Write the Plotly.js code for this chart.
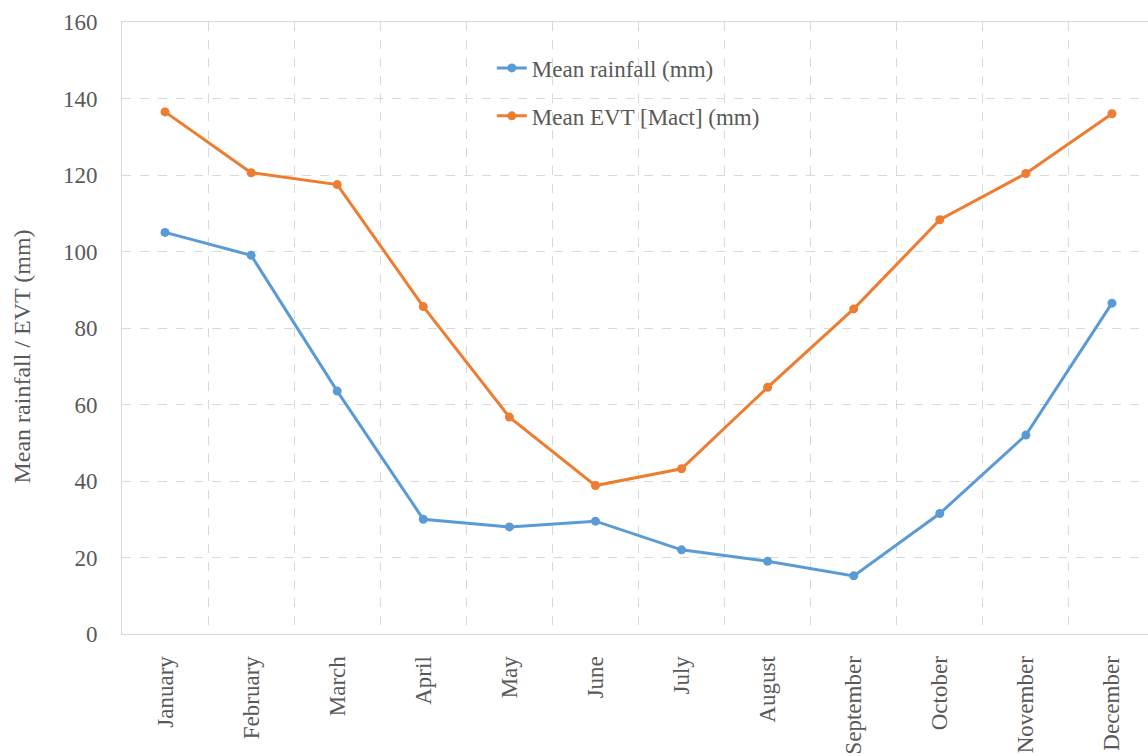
<!DOCTYPE html>
<html>
<head>
<meta charset="utf-8">
<script src="https://cdn.plot.ly/plotly-3.0.1.min.js"></script>
<style>
html,body{margin:0;padding:0;overflow:hidden;background:#fff;}
#chart{width:1155px;height:756px;}
</style>
</head>
<body>
<div id="chart"></div>
<script>
const months = ["January","February","March","April","May","June","July","August","September","October","November","December"];
const rainfall = [105, 99, 63.5, 30, 28, 29.5, 22, 19, 15.2, 31.5, 52, 86.5];
const evt = [136.5, 120.6, 117.5, 85.6, 56.7, 38.8, 43.2, 64.5, 85, 108.3, 120.4, 136];
const yTickVals = [0, 20, 40, 60, 80, 100, 120, 140, 160];
const seriesNames = ["Mean rainfall (mm)", "Mean EVT [Mact] (mm)"];
const yTitle = "Mean rainfall / EVT (mm)";

const FONT = "'Liberation Serif', 'Times New Roman', serif";
const GRAY = "#595959";
const GRID = "#d9d9d9";

const traces = [
  {x: months, y: rainfall, name: seriesNames[0], type: "scatter", mode: "lines+markers",
   line: {color: "#5B9BD5", width: 3}, marker: {color: "#5B9BD5", size: 9}, legendgroup: "a"},
  {x: months, y: evt, name: seriesNames[1], type: "scatter", mode: "lines+markers",
   line: {color: "#ED7D31", width: 3}, marker: {color: "#ED7D31", size: 9}, legendgroup: "b"}
];

const layout = {
  width: 1155, height: 756,
  margin: {l: 122, r: 0, t: 21.5, b: 121.5},
  paper_bgcolor: "#fff", plot_bgcolor: "#fff",
  font: {family: FONT, color: GRAY, size: 23},
  showlegend: true,
  legend: {x: 0.358, y: 0.96, xanchor: "left", yanchor: "top",
           bgcolor: "rgba(0,0,0,0)", font: {size: 23, color: GRAY, family: FONT},
           tracegroupgap: 15, itemwidth: 30},
  xaxis: {type: "category", range: [-0.5, 11.5], tickson: "boundaries", showgrid: true,
          gridcolor: GRID, griddash: "dash", gridwidth: 1,
          showline: true, linecolor: GRID, linewidth: 1, mirror: true,
          ticks: "", tickangle: -90, ticklabelstandoff: 12,
          tickfont: {size: 23, color: GRAY, family: FONT}, zeroline: false},
  yaxis: {range: [0, 160], tickvals: yTickVals, showgrid: true,
          gridcolor: GRID, griddash: "dash", gridwidth: 1,
          showline: true, linecolor: GRID, linewidth: 1,
          ticks: "", ticklabelstandoff: 19, zeroline: false,
          tickfont: {size: 23, color: GRAY, family: FONT}},
  annotations: [{text: yTitle, xref: "paper", yref: "paper", x: -0.097, y: 0.453,
                 xanchor: "center", yanchor: "middle", textangle: -90, showarrow: false,
                 font: {size: 24, color: GRAY, family: FONT}}]
};

Plotly.newPlot("chart", traces, layout, {displayModeBar: false, staticPlot: true});
</script>
</body>
</html>
